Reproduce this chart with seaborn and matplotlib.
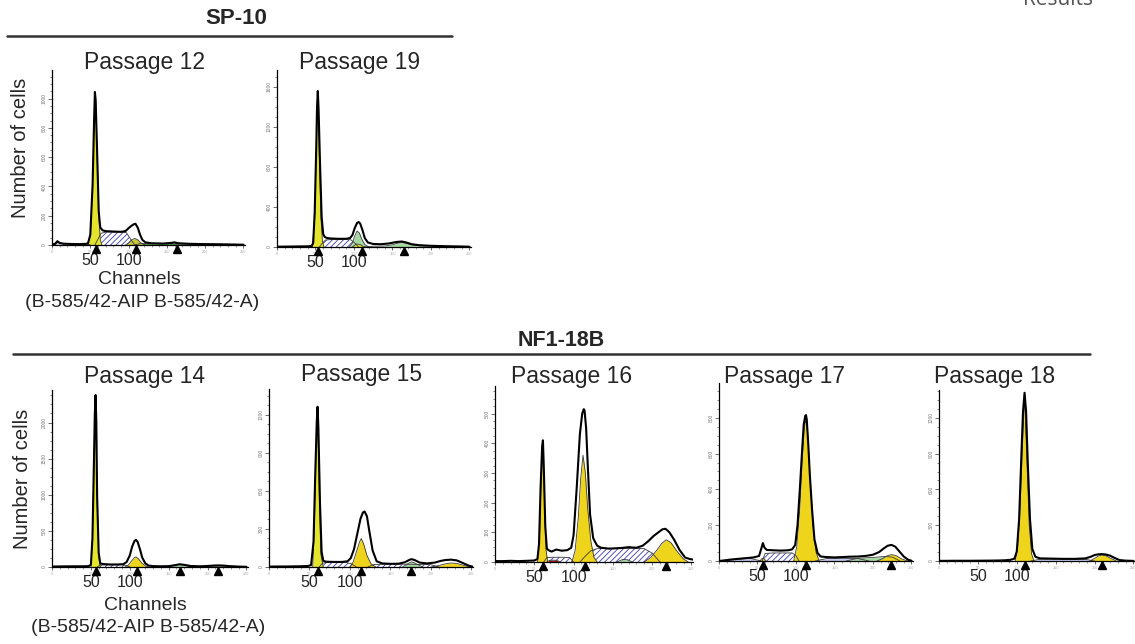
import matplotlib
matplotlib.use("Agg")
import matplotlib.pyplot as plt
import matplotlib.transforms as mtransforms
from matplotlib.lines import Line2D
from matplotlib.ticker import MultipleLocator, AutoMinorLocator
import seaborn as sns

# --- values (channel, number of cells) ---

# SP-10, passage 12
p12_ch = [0, 4, 7, 10, 15, 25, 35, 45, 47, 50, 53, 55, 56, 57, 59, 61, 63, 66, 70, 80,
          90, 96, 100, 104, 107, 109, 112, 115, 118, 122, 130, 145, 155, 160, 165, 180, 200, 220, 240, 250]
p12_n = [4, 8, 26, 14, 9, 7, 6, 8, 12, 70, 410, 860, 1045, 990, 620, 230, 120, 100, 95, 92,
         90, 95, 115, 132, 142, 145, 118, 70, 35, 18, 12, 10, 14, 18, 12, 8, 6, 5, 3, 2]
p12_g1_ch = [47, 50, 53, 55, 56, 57, 59, 61, 63, 65]
p12_g1_n = [0, 60, 400, 850, 1040, 980, 600, 200, 40, 0]
p12_s_ch = [56, 60, 64, 70, 80, 90, 97, 102, 108]
p12_s_n = [0, 40, 80, 88, 88, 88, 85, 45, 0]
p12_g2_ch = [96, 100, 104, 108, 112, 116, 121]
p12_g2_n = [0, 15, 35, 45, 35, 15, 0]
p12_low_ch = [2, 5, 8, 12, 20, 30, 40, 47, 50]
p12_low_n = [0, 6, 20, 10, 7, 6, 5, 6, 0]
p12_tail_ch = [108, 115, 125, 140, 155, 160, 165, 180, 200, 230, 250]
p12_tail_n = [0, 10, 10, 9, 10, 14, 10, 7, 5, 3, 0]
p12_marks = [57, 110, 163]

# SP-10, passage 19
p19_ch = [0, 10, 20, 30, 40, 45, 47, 49, 51, 52, 53, 54, 56, 58, 60, 62, 65, 70, 80, 90,
          95, 98, 101, 104, 106, 108, 111, 114, 118, 125, 135, 145, 155, 162, 168, 175, 185, 200, 220, 240, 250]
p19_n = [3, 4, 5, 6, 7, 10, 40, 350, 1000, 1400, 1560, 1380, 800, 300, 130, 100, 90, 85, 82, 82,
         90, 120, 190, 240, 250, 235, 170, 90, 45, 30, 28, 35, 50, 55, 45, 28, 18, 12, 8, 5, 3]
p19_g1_ch = [46, 49, 51, 53, 55, 57, 59, 61]
p19_g1_n = [0, 300, 950, 1540, 900, 300, 60, 0]
p19_s_ch = [55, 59, 63, 70, 80, 90, 96, 101, 106]
p19_s_n = [0, 40, 70, 74, 74, 74, 72, 40, 0]
p19_g2_ch = [94, 98, 101, 104, 107, 110, 114, 119]
p19_g2_n = [0, 40, 110, 160, 140, 80, 25, 0]
p19_y2_ch = [98, 103, 108, 113]
p19_y2_n = [0, 30, 25, 0]
p19_tail_ch = [112, 125, 140, 150, 157, 162, 167, 175, 185, 200, 230, 250]
p19_tail_n = [0, 8, 10, 22, 38, 45, 38, 20, 12, 8, 4, 0]
p19_marks = [53, 110, 165]

# NF1-18B, passage 14
p14_ch = [0, 10, 20, 30, 40, 47, 50, 52, 54, 55, 56, 57, 58, 60, 62, 66, 75, 85, 92, 96,
          100, 103, 106, 108, 110, 113, 116, 120, 124, 130, 140, 150, 158, 164, 170, 178, 190, 200, 208, 214,
          220, 228, 240, 250]
p14_n = [6, 8, 9, 10, 10, 12, 30, 400, 1500, 2100, 2380, 2000, 1000, 200, 50, 40, 35, 35, 40, 70,
         160, 280, 360, 375, 350, 250, 130, 50, 20, 12, 10, 12, 25, 38, 30, 14, 10, 14, 20, 22,
         20, 12, 6, 3]
p14_g1_ch = [50, 52, 54, 56, 58, 60, 62]
p14_g1_n = [0, 350, 1450, 2350, 900, 150, 0]
p14_s_ch = [58, 62, 70, 80, 90, 96, 100]
p14_s_n = [0, 28, 30, 30, 30, 20, 0]
p14_g2_ch = [94, 98, 102, 106, 108, 111, 115, 120, 124]
p14_g2_n = [0, 25, 80, 130, 140, 115, 60, 15, 0]
p14_gr_ch = [150, 156, 161, 164, 168, 174, 180]
p14_gr_n = [0, 18, 32, 35, 30, 15, 0]
p14_br_ch = [192, 200, 208, 214, 220, 228, 236]
p14_br_n = [0, 10, 17, 20, 17, 9, 0]
p14_marks = [56, 109, 164, 213]

# NF1-18B, passage 15
p15_ch = [0, 10, 20, 30, 40, 48, 52, 55, 57, 59, 60, 61, 63, 65, 67, 70, 80, 90, 97, 101,
          105, 109, 113, 116, 118, 121, 124, 128, 133, 140, 150, 160, 168, 173, 176, 180, 186, 195, 205, 212,
          218, 225, 232, 240, 247, 252]
p15_n = [3, 4, 4, 5, 6, 8, 15, 200, 700, 1150, 1265, 1100, 500, 120, 50, 42, 40, 40, 45, 70,
         140, 260, 380, 430, 438, 400, 280, 130, 45, 28, 25, 26, 38, 55, 62, 55, 35, 28, 35, 48,
         55, 58, 52, 30, 10, 2]
p15_g1_ch = [54, 56, 58, 60, 62, 64, 67]
p15_g1_n = [0, 300, 850, 1240, 600, 100, 0]
p15_s_ch = [62, 66, 72, 85, 95, 102, 108]
p15_s_n = [0, 30, 36, 36, 36, 25, 0]
p15_s2_ch = [122, 130, 145, 160, 170, 185, 200, 210]
p15_s2_n = [0, 20, 22, 22, 22, 20, 18, 0]
p15_g2_ch = [100, 104, 108, 112, 114, 117, 121, 126, 132]
p15_g2_n = [0, 40, 120, 200, 225, 180, 90, 25, 0]
p15_gr_ch = [165, 170, 174, 176, 179, 184, 190]
p15_gr_n = [0, 20, 35, 40, 35, 18, 0]
p15_g3_ch = [200, 210, 218, 225, 232, 240, 248]
p15_g3_n = [0, 12, 25, 32, 28, 14, 0]
p15_marks = [61, 114, 176]

# NF1-18B, passage 16
p16_ch = [0, 10, 20, 30, 40, 50, 54, 56, 58, 60, 61, 62, 64, 66, 68, 72, 78, 85, 92, 97,
          100, 104, 108, 111, 113, 114, 116, 118, 121, 125, 130, 135, 145, 160, 170, 180, 188, 195, 202, 208,
          213, 217, 222, 228, 235, 242, 248, 252]
p16_n = [3, 3, 4, 3, 4, 5, 10, 60, 250, 390, 410, 330, 120, 45, 40, 35, 42, 38, 40, 48,
         90, 250, 430, 500, 515, 510, 450, 330, 160, 80, 55, 48, 45, 47, 50, 48, 55, 70, 88, 100,
         110, 112, 100, 75, 40, 15, 10, 8]
p16_g1_ch = [54, 57, 59, 61, 63, 65, 67]
p16_g1_n = [0, 100, 300, 405, 200, 40, 0]
p16_s_ch = [62, 66, 75, 85, 95, 100]
p16_s_n = [0, 15, 16, 16, 15, 0]
p16_red_ch = [66, 70, 78, 84]
p16_red_n = [0, 6, 6, 0]
p16_g2_ch = [98, 102, 106, 109, 112, 115, 118, 122, 126, 130]
p16_g2_n = [0, 40, 150, 280, 360, 300, 180, 70, 15, 0]
p16_s2_ch = [108, 115, 122, 130, 145, 170, 190, 200, 210]
p16_s2_n = [0, 20, 38, 45, 46, 46, 45, 30, 0]
p16_gr_ch = [155, 162, 168, 175]
p16_gr_n = [0, 8, 8, 0]
p16_g3_ch = [190, 198, 206, 212, 218, 224, 232, 240, 246]
p16_g3_n = [0, 15, 40, 62, 75, 65, 35, 10, 0]
p16_marks = [61.5, 114, 217]

# NF1-18B, passage 17
p17_ch = [0, 8, 15, 25, 35, 45, 52, 55, 57, 59, 62, 70, 80, 90, 95, 99, 102, 105, 108, 110,
          112, 113, 114, 116, 118, 121, 124, 128, 132, 140, 150, 160, 170, 180, 190, 200, 208, 214, 219, 224,
          229, 234, 240, 246, 250]
p17_n = [0, 4, 8, 12, 16, 20, 28, 70, 100, 75, 62, 60, 58, 60, 65, 90, 200, 400, 620, 760,
         810, 815, 790, 650, 480, 280, 120, 45, 25, 22, 20, 22, 24, 25, 28, 35, 50, 70, 85, 90,
         80, 55, 25, 6, 2]
p17_low_ch = [5, 20, 40, 55]
p17_low_n = [0, 8, 15, 0]
p17_s_ch = [56, 60, 70, 85, 95, 100, 104]
p17_s_n = [0, 42, 45, 45, 45, 30, 0]
p17_y1_ch = [53, 56, 58, 61]
p17_y1_n = [0, 15, 15, 0]
p17_g2_ch = [97, 101, 105, 108, 111, 113, 115, 118, 122, 126, 130]
p17_g2_n = [0, 80, 300, 550, 750, 790, 720, 480, 200, 50, 0]
p17_low2_ch = [125, 140, 160, 180, 195]
p17_low2_n = [0, 14, 15, 14, 0]
p17_gr_ch = [165, 180, 200, 215, 225, 235]
p17_gr_n = [0, 15, 20, 25, 22, 0]
p17_g3_ch = [205, 212, 218, 224, 230, 237, 245]
p17_g3_n = [0, 12, 28, 36, 30, 12, 0]
p17_marks = [57, 113, 224]

# NF1-18B, passage 18
p18_ch = [0, 20, 40, 60, 75, 85, 92, 97, 100, 103, 106, 108, 110, 112, 114, 117, 120, 124, 130, 145,
          160, 175, 188, 195, 200, 205, 209, 214, 220, 226, 232, 240, 250]
p18_n = [1, 2, 2, 3, 4, 6, 10, 20, 80, 350, 900, 1250, 1410, 1250, 850, 350, 100, 35, 22, 20,
         18, 18, 22, 35, 50, 56, 58, 55, 45, 25, 8, 3, 1]
p18_g1_ch = [98, 101, 104, 107, 110, 113, 116, 119, 122]
p18_g1_n = [0, 100, 400, 900, 1390, 850, 300, 60, 0]
p18_low_ch = [118, 130, 150, 170, 190, 200]
p18_low_n = [0, 15, 15, 14, 12, 0]
p18_g2_ch = [194, 200, 205, 209, 214, 220, 228]
p18_g2_n = [0, 22, 42, 50, 45, 25, 0]
p18_marks = [110, 209]

passages = ["Passage 12", "Passage 19", "Passage 14", "Passage 15", "Passage 16", "Passage 17", "Passage 18"]
y_tops = [1195, 1770, 2450, 1405, 593, 994, 1433]
y_steps = [200, 400, 500, 300, 100, 200, 300]

# --- styling ---
sns.set_style("white")
plt.rcParams["font.family"] = ["Liberation Sans", "DejaVu Sans"]
plt.rcParams["hatch.linewidth"] = 0.6
plt.rcParams["hatch.color"] = "#3c3cb0"

YEL_TOP = "#e4e42c"
YEL = "#efd41c"
OLIVE = "#c9c93c"
GREEN = "#a7d8a2"
LAV = "#c9c9ef"
BROWN = "#a58c3c"
RED = "#a01818"

W, H = 1135, 644
fig = plt.figure(figsize=(W / 100, H / 100), dpi=100)


def px_rect(x0, x1, ytop, ybot):
    return [x0 / W, 1 - ybot / H, (x1 - x0) / W, (ybot - ytop) / H]


def ftext(x, y, s, **kw):
    kw.setdefault("ha", "center")
    kw.setdefault("va", "center")
    fig.text(x / W, 1 - y / H, s, **kw)


def hline(x0, x1, y):
    fig.add_artist(Line2D([x0 / W, x1 / W], [1 - y / H, 1 - y / H], color="#333333", lw=1.8))


def area(ax, ch, n, color, hatch=None):
    if hatch:
        ax.fill_between(ch, n, 0, facecolor="white", hatch=hatch, edgecolor="#3c3cb0", lw=0)
    else:
        ax.fill_between(ch, n, 0, color=color, lw=0)
    ax.plot(ch, n, color="#3a3a3a", lw=0.6)


def panel(rect, title_xy, title, ytop, ystep, ch, n, comps, marks):
    ax = fig.add_axes(rect)
    for c in comps:
        area(ax, *c)
    sns.lineplot(x=ch, y=n, ax=ax, color="black", lw=1.5, estimator=None, sort=False)
    ax.set_xlim(0, 252)
    ax.set_ylim(0, ytop)
    sns.despine(ax=ax)
    for s in ("left", "bottom"):
        ax.spines[s].set_color("black")
        ax.spines[s].set_linewidth(0.9)
    ax.yaxis.set_major_locator(MultipleLocator(ystep))
    ax.yaxis.set_minor_locator(AutoMinorLocator(4))
    ax.xaxis.set_major_locator(MultipleLocator(50))
    ax.xaxis.set_minor_locator(MultipleLocator(10))
    ax.tick_params(axis="y", which="major", direction="out", length=3, width=0.6, color="#555555",
                   labelsize=3.5, labelcolor="#777777", pad=1, labelrotation=90, left=True)
    ax.tick_params(axis="y", which="minor", direction="out", length=1.8, width=0.5, color="#555555", left=True)
    ax.tick_params(axis="x", which="major", direction="out", length=2.5, width=0.6, color="#555555",
                   labelsize=2.8, labelcolor="#aaaaaa", pad=1, bottom=True)
    ax.tick_params(axis="x", which="minor", direction="out", length=1.5, width=0.5, color="#777777", bottom=True)
    for lab in ax.get_yticklabels():
        lab.set_va("center")
    ax.set_xlabel("")
    ax.set_ylabel("")
    for c in (50, 100):
        ax.annotate(str(c), xy=(c, 0), xycoords=("data", "axes fraction"), xytext=(0, -6),
                    textcoords="offset points", ha="center", va="top", fontsize=11.5)
    shift = mtransforms.ScaledTranslation(0, -0.035, fig.dpi_scale_trans)
    ax.plot(marks, [0] * len(marks), ls="none", marker="^", ms=5.5, color="black",
            clip_on=False, transform=ax.transData + shift, zorder=5)
    ftext(title_xy[0], title_xy[1], title, fontsize=16.5)
    return ax


# top group
ftext(236, 18, "SP-10", fontsize=16, fontweight="bold")
hline(7, 452, 36)
panel(px_rect(52, 245, 70, 245), (145, 62), passages[0], y_tops[0], y_steps[0], p12_ch, p12_n,
      [(p12_low_ch, p12_low_n, LAV), (p12_s_ch, p12_s_n, None, "//////"),
       (p12_tail_ch, p12_tail_n, "#4f8a4a"), (p12_g2_ch, p12_g2_n, OLIVE),
       (p12_g1_ch, p12_g1_n, YEL_TOP)], p12_marks)
panel(px_rect(277, 471, 70, 247), (360, 62), passages[1], y_tops[1], y_steps[1], p19_ch, p19_n,
      [(p19_s_ch, p19_s_n, None, "//////"), (p19_tail_ch, p19_tail_n, GREEN),
       (p19_g2_ch, p19_g2_n, GREEN), (p19_y2_ch, p19_y2_n, YEL_TOP),
       (p19_g1_ch, p19_g1_n, YEL_TOP)], p19_marks)
ftext(20, 148, "Number of cells", fontsize=14.5, rotation=90)
ftext(139, 280, "Channels", fontsize=14)
ftext(142, 302, "(B-585/42-AIP B-585/42-A)", fontsize=14)

# bottom group
ftext(561, 341, "NF1-18B", fontsize=15.5, fontweight="bold")
hline(13, 1090, 354)
panel(px_rect(52, 248, 390, 567), (145, 376), passages[2], y_tops[2], y_steps[2], p14_ch, p14_n,
      [(p14_s_ch, p14_s_n, None, "//////"), (p14_gr_ch, p14_gr_n, GREEN),
       (p14_br_ch, p14_br_n, BROWN), (p14_g2_ch, p14_g2_n, YEL),
       (p14_g1_ch, p14_g1_n, YEL_TOP)], p14_marks)
panel(px_rect(269, 473, 389, 567), (362, 375), passages[3], y_tops[3], y_steps[3], p15_ch, p15_n,
      [(p15_s_ch, p15_s_n, None, "//////"), (p15_s2_ch, p15_s2_n, None, "//////"),
       (p15_gr_ch, p15_gr_n, GREEN), (p15_g3_ch, p15_g3_n, YEL),
       (p15_g2_ch, p15_g2_n, YEL), (p15_g1_ch, p15_g1_n, YEL_TOP)], p15_marks)
panel(px_rect(495, 693, 386, 562), (572, 376), passages[4], y_tops[4], y_steps[4], p16_ch, p16_n,
      [(p16_s_ch, p16_s_n, None, "//////"), (p16_red_ch, p16_red_n, RED),
       (p16_s2_ch, p16_s2_n, None, "//////"), (p16_gr_ch, p16_gr_n, GREEN),
       (p16_g3_ch, p16_g3_n, YEL), (p16_g2_ch, p16_g2_n, YEL),
       (p16_g1_ch, p16_g1_n, YEL)], p16_marks)
panel(px_rect(719, 913, 383, 561), (785, 376), passages[5], y_tops[5], y_steps[5], p17_ch, p17_n,
      [(p17_low_ch, p17_low_n, LAV), (p17_s_ch, p17_s_n, None, "//////"),
       (p17_low2_ch, p17_low2_n, LAV), (p17_gr_ch, p17_gr_n, GREEN),
       (p17_y1_ch, p17_y1_n, YEL), (p17_g3_ch, p17_g3_n, YEL),
       (p17_g2_ch, p17_g2_n, YEL)], p17_marks)
panel(px_rect(939, 1135, 390, 561), (995, 376), passages[6], y_tops[6], y_steps[6], p18_ch, p18_n,
      [(p18_low_ch, p18_low_n, LAV), (p18_g2_ch, p18_g2_n, YEL),
       (p18_g1_ch, p18_g1_n, YEL)], p18_marks)
ftext(23, 479, "Number of cells", fontsize=14.5, rotation=90)
ftext(145, 605, "Channels", fontsize=14)
ftext(148, 628, "(B-585/42-AIP B-585/42-A)", fontsize=14)

# page header fragment, cut by the top edge as in the source page
fig.text(1093 / W, 1 - 5 / H, "Results", ha="right", va="baseline", fontsize=15,
         color="#555555", family=["Open Sans", "DejaVu Sans"])

fig.savefig("out.png", dpi=100)
